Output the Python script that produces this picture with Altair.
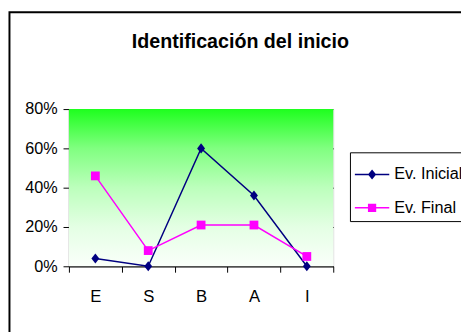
import altair as alt
import pandas as pd

categories = ["E", "S", "B", "A", "I"]
series_names = ["Ev. Inicial", "Ev. Final"]
inicial = [0.04, 0.0, 0.60, 0.36, 0.0]
final = [0.46, 0.08, 0.21, 0.21, 0.05]
y_ticks = [0, 0.2, 0.4, 0.6, 0.8]
series_colors = ["#000080", "#FF00FF"]

rows = []
for name, vals in zip(series_names, [inicial, final]):
    for c, v in zip(categories, vals):
        rows.append({"cat": c, "series": name, "value": v})
df = pd.DataFrame(rows)

FONT = "Liberation Sans, Arial, sans-serif"

diamond_path = "M0,-1.15L0.9,0L0,1.15L-0.9,0Z"
square_path = "M-1,-1H1V1H-1Z"
leg_diamond = "M-1,-0.045H1V0.045H-1Z M0,-0.29L0.24,0L0,0.29L-0.24,0Z"
leg_square = "M-1,-0.045H1V0.045H-1Z M-0.24,-0.24H0.24V0.24H-0.24Z"

x_enc = alt.X(
    "cat:N",
    sort=categories,
    scale=alt.Scale(paddingInner=0, paddingOuter=0),
    axis=alt.Axis(
        title=None, labelAngle=0, tickBand="extent", domainColor="black",
        tickColor="black", tickSize=6, labelPadding=17, labelFont=FONT,
        labelFontSize=17, labelColor="black", grid=False,
    ),
)
y_enc = alt.Y(
    "value:Q",
    scale=alt.Scale(domain=[0, 0.8], nice=False),
    axis=alt.Axis(
        title=None, values=y_ticks, format=".0%", domainColor="black",
        tickColor="black", tickSize=6, labelPadding=6, labelFont=FONT,
        labelFontSize=16.5, labelColor="black", grid=True,
        gridColor={"condition": {"test": "datum.value >= 0.8", "value": "#808080"}, "value": "black"},
        gridWidth=1,
    ),
)

color_scale = alt.Scale(domain=series_names, range=series_colors)

base = alt.Chart(df)

gradient = alt.LinearGradient(
    gradient="linear", x1=0, y1=0, x2=0, y2=1,
    stops=[
        alt.GradientStop(color="#1eff1e", offset=0),
        alt.GradientStop(color="#80ff80", offset=0.25),
        alt.GradientStop(color="#bcffbc", offset=0.5),
        alt.GradientStop(color="#e4ffe4", offset=0.75),
        alt.GradientStop(color="#fafffa", offset=1),
    ],
)

bg = alt.Chart(alt.Data(values=[{"a": 1}])).mark_rect(fill=gradient, stroke=None).encode(
    x=alt.value(0), x2=alt.value("width"), y=alt.value(0), y2=alt.value("height")
)

lines = base.mark_line(strokeWidth=1.5).encode(
    x=x_enc, y=y_enc,
    color=alt.Color("series:N", scale=color_scale, legend=None),
    detail="series:N",
)

pts_ini = base.transform_filter(alt.datum.series == series_names[0]).mark_point(
    shape=diamond_path, filled=True, opacity=1, size=80, color=series_colors[0]
).encode(x=x_enc, y=y_enc)

pts_fin = base.transform_filter(alt.datum.series == series_names[1]).mark_point(
    shape=square_path, filled=True, opacity=1, size=80, color=series_colors[1]
).encode(x=x_enc, y=y_enc)

leg_common = dict(
    title=None, orient="none", legendX=286, legendY=44, strokeColor="black",
    padding=5, labelFont=FONT, labelFontSize=16.5, labelColor="black",
    labelOffset=5, symbolSize=1225, symbolStrokeWidth=0, rowPadding=8,
)
legend_layer = base.transform_filter("false").mark_point(filled=True, opacity=1).encode(
    x=x_enc, y=y_enc,
    color=alt.Color("series:N", scale=color_scale, legend=alt.Legend(**leg_common)),
    shape=alt.Shape("series:N", scale=alt.Scale(domain=series_names, range=[leg_diamond, leg_square]),
                    legend=alt.Legend(**leg_common)),
)

frame = alt.Chart(alt.Data(values=[{"a": 1}])).mark_rect(
    fill=None, stroke="black", strokeWidth=2
).encode(
    x=alt.value(-60.5), y=alt.value(-98.5), x2=alt.value(420), y2=alt.value(260)
)

chart = alt.layer(legend_layer, frame, bg, lines, pts_ini, pts_fin).properties(
    width=269,
    height=160,
    autosize=alt.AutoSizeParams(type="none"),
    padding={"left": 62, "top": 100, "right": 130, "bottom": 64},
    title=alt.TitleParams(
        "Identificación del inicio", font=FONT, fontSize=20, fontWeight="bold",
        color="black", anchor="middle", dx=40, dy=51, offset=10,
    ),
).configure_view(
    stroke="#808080",
    strokeWidth=1.5,
).configure(background="white")

chart.save("out.html", embed_options={"renderer": "svg", "actions": False})
